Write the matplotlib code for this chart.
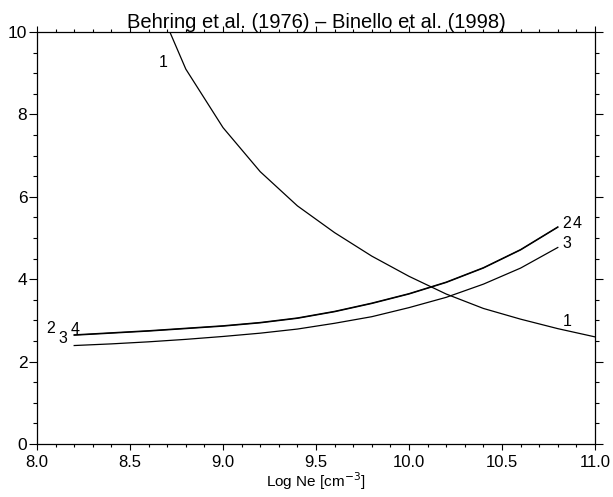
import matplotlib
matplotlib.use("Agg")
import matplotlib.pyplot as plt
from matplotlib.ticker import MultipleLocator

plt.rcParams['font.family'] = ['Liberation Sans', 'DejaVu Sans']

log_ne = [8.2, 8.4, 8.6, 8.8, 9.0, 9.2, 9.4, 9.6, 9.8, 10.0, 10.2, 10.4, 10.6, 10.8]
curve2 = [2.64, 2.69, 2.74, 2.80, 2.86, 2.94, 3.05, 3.21, 3.41, 3.64, 3.92, 4.27, 4.71, 5.26]
curve4 = [2.65, 2.70, 2.75, 2.81, 2.87, 2.95, 3.06, 3.22, 3.42, 3.65, 3.93, 4.28, 4.72, 5.27]
curve3 = [2.39, 2.43, 2.48, 2.54, 2.61, 2.69, 2.79, 2.93, 3.09, 3.31, 3.56, 3.88, 4.27, 4.77]

log_ne1 = [8.6, 8.8, 9.0, 9.2, 9.4, 9.6, 9.8, 10.0, 10.2, 10.4, 10.6, 10.8, 11.0]
curve1 = [11.2, 9.10, 7.68, 6.61, 5.78, 5.13, 4.56, 4.07, 3.64, 3.29, 3.03, 2.80, 2.60]

title = "Behring et al. (1976) \u2013 Binello et al. (1998)"
xlabel = r"Log Ne [cm$^{-3}$]"

fig = plt.figure(figsize=(6.13, 4.97), dpi=100)
ax = fig.add_axes([37/613, 53/497, 558/613, 412/497])

lw = 0.9
ax.plot(log_ne1, curve1, color='black', lw=lw)
ax.plot(log_ne, curve2, color='black', lw=lw)
ax.plot(log_ne, curve3, color='black', lw=lw)
ax.plot(log_ne, curve4, color='black', lw=lw)

fs = 11.5
# labels at curve starts and ends
ax.text(8.676, 9.25, "1", fontsize=fs, ha='center', va='center')
ax.text(10.85, 2.98, "1", fontsize=fs, ha='center', va='center')
ax.text(8.075, 2.80, "2", fontsize=fs, ha='center', va='center')
ax.text(8.14, 2.55, "3", fontsize=fs, ha='center', va='center')
ax.text(8.205, 2.78, "4", fontsize=fs, ha='center', va='center')
ax.text(10.85, 5.35, "2", fontsize=fs, ha='center', va='center')
ax.text(10.905, 5.35, "4", fontsize=fs, ha='center', va='center')
ax.text(10.85, 4.87, "3", fontsize=fs, ha='center', va='center')

ax.set_xlim(8.0, 11.0)
ax.set_ylim(0, 10)
ax.xaxis.set_major_locator(MultipleLocator(0.5))
ax.xaxis.set_minor_locator(MultipleLocator(0.1))
ax.yaxis.set_major_locator(MultipleLocator(2))
ax.yaxis.set_minor_locator(MultipleLocator(0.5))
ax.xaxis.set_major_formatter(matplotlib.ticker.FormatStrFormatter('%.1f'))

ax.tick_params(axis='x', which='major', direction='out', length=4, width=0.8,
               top=True, labelsize=12, pad=4)
ax.tick_params(axis='x', which='minor', direction='out', length=2.2, width=0.8, top=True)
ax.tick_params(axis='y', which='major', direction='out', length=6, width=0.8,
               right=True, labelsize=12.5, pad=1)
ax.tick_params(axis='y', which='minor', direction='out', length=3, width=0.8, right=True)
for s in ax.spines.values():
    s.set_linewidth(0.9)

ax.set_title(title, fontsize=14.5, pad=-1)
ax.set_xlabel(xlabel, fontsize=11, labelpad=0)

fig.savefig("out.png", dpi=100)
